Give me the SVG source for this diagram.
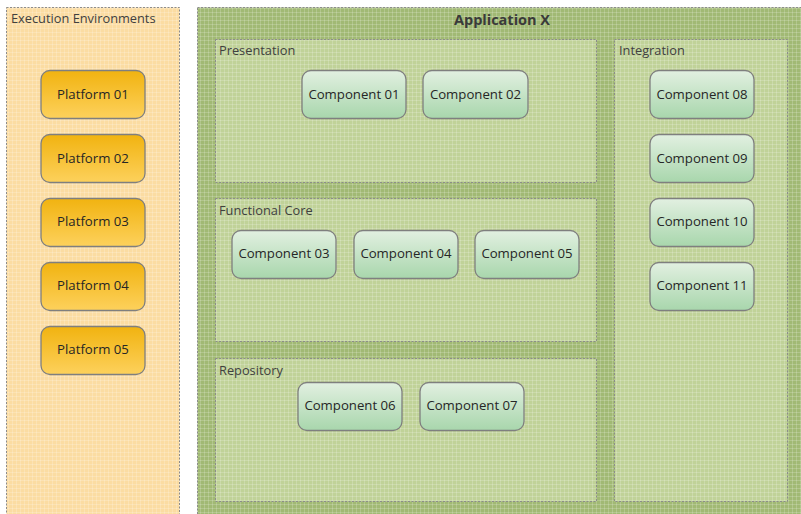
<svg xmlns="http://www.w3.org/2000/svg" width="801" height="514" viewBox="0 0 801 514">
  <defs>
    <pattern id="grid" width="4" height="4" patternUnits="userSpaceOnUse">
      <path d="M0 0.5H4M0.5 0V4" stroke="#ffffff" stroke-opacity="0.18" stroke-width="1" fill="none"/>
    </pattern>
    <linearGradient id="gPlatform" x1="0" y1="0" x2="0" y2="1">
      <stop offset="0" stop-color="#f1b310"/>
      <stop offset="1" stop-color="#fdd15c"/>
    </linearGradient>
    <linearGradient id="gComponent" x1="0" y1="0" x2="0" y2="1">
      <stop offset="0" stop-color="#e2f0e1"/>
      <stop offset="1" stop-color="#a8d6ac"/>
    </linearGradient>
  </defs>
  <style>
    .container { stroke: #8c8c8c; stroke-width: 1; stroke-dasharray: 2 1.5; }
    .env { fill: #fbdca2; }
    .app { fill: #a1b974; }
    .layer { fill: #c0d298; }
    .tex { fill: url(#grid); stroke: none; }
    .platform { fill: url(#gPlatform); stroke: #7f7f7f; stroke-width: 1.3; }
    .component { fill: url(#gComponent); stroke: #7f7f7f; stroke-width: 1.3; }
    .label { font-family: "Open Sans", "Liberation Sans", sans-serif; font-size: 12.8px; fill: #404040; }
    .node-text { font-family: "Open Sans", "Liberation Sans", sans-serif; font-size: 13.2px; fill: #262626; text-anchor: middle; }
    .title { font-family: "Open Sans", "Liberation Sans", sans-serif; font-size: 14.5px; font-weight: bold; fill: #3a3a3a; text-anchor: middle; }
  </style>
  <rect width="801" height="514" fill="#ffffff"/>

  <!-- Execution environments column -->
  <g id="execution-environments">
    <rect class="container env" x="6.5" y="7.5" width="173" height="510"/>
    <rect class="tex" x="7" y="8" width="172" height="506"/>
    <text class="label" x="11" y="23">Execution Environments</text>
  </g>

  <!-- Application container -->
  <g id="application-x">
    <rect class="container app" x="197.5" y="7.5" width="606" height="510"/>
    <rect class="tex" x="198" y="8" width="603" height="506"/>
    <text class="title" x="502" y="25">Application X</text>
  </g>

  <g id="presentation">
    <rect class="container layer" x="215.5" y="39.5" width="381" height="143"/>
    <rect class="tex" x="216" y="40" width="380" height="142"/>
    <text class="label" x="219" y="55">Presentation</text>
  </g>
  <g id="functional-core">
    <rect class="container layer" x="215.5" y="198.5" width="381" height="143"/>
    <rect class="tex" x="216" y="199" width="380" height="142"/>
    <text class="label" x="219" y="215">Functional Core</text>
  </g>
  <g id="repository">
    <rect class="container layer" x="215.5" y="358.5" width="381" height="143"/>
    <rect class="tex" x="216" y="359" width="380" height="142"/>
    <text class="label" x="219" y="375">Repository</text>
  </g>
  <g id="integration">
    <rect class="container layer" x="614.5" y="39.5" width="173" height="462"/>
    <rect class="tex" x="615" y="40" width="172" height="461"/>
    <text class="label" x="619" y="55">Integration</text>
  </g>

  <!-- Platforms -->
  <g id="platform-01"><rect class="platform" x="41" y="70.5" width="104" height="48" rx="9"/><text class="node-text" x="93" y="98.5">Platform 01</text></g>
  <g id="platform-02"><rect class="platform" x="41" y="134.5" width="104" height="48" rx="9"/><text class="node-text" x="93" y="162.5">Platform 02</text></g>
  <g id="platform-03"><rect class="platform" x="41" y="198.5" width="104" height="48" rx="9"/><text class="node-text" x="93" y="225.5">Platform 03</text></g>
  <g id="platform-04"><rect class="platform" x="41" y="262.5" width="104" height="48" rx="9"/><text class="node-text" x="93" y="289.5">Platform 04</text></g>
  <g id="platform-05"><rect class="platform" x="41" y="326.5" width="104" height="48" rx="9"/><text class="node-text" x="93" y="353.5">Platform 05</text></g>

  <!-- Components -->
  <g id="component-01"><rect class="component" x="302" y="70.5" width="104" height="48" rx="9"/><text class="node-text" x="354" y="98.5">Component 01</text></g>
  <g id="component-02"><rect class="component" x="423" y="70.5" width="105" height="48" rx="9"/><text class="node-text" x="475.5" y="98.5">Component 02</text></g>
  <g id="component-03"><rect class="component" x="232" y="230.5" width="104" height="48" rx="9"/><text class="node-text" x="284" y="257.5">Component 03</text></g>
  <g id="component-04"><rect class="component" x="354" y="230.5" width="104" height="48" rx="9"/><text class="node-text" x="406" y="257.5">Component 04</text></g>
  <g id="component-05"><rect class="component" x="475" y="230.5" width="104" height="48" rx="9"/><text class="node-text" x="527" y="257.5">Component 05</text></g>
  <g id="component-06"><rect class="component" x="298" y="382.5" width="104" height="48" rx="9"/><text class="node-text" x="350" y="409.5">Component 06</text></g>
  <g id="component-07"><rect class="component" x="420" y="382.5" width="104" height="48" rx="9"/><text class="node-text" x="472" y="409.5">Component 07</text></g>
  <g id="component-08"><rect class="component" x="650" y="70.5" width="104" height="48" rx="9"/><text class="node-text" x="702" y="98.5">Component 08</text></g>
  <g id="component-09"><rect class="component" x="650" y="134.5" width="104" height="48" rx="9"/><text class="node-text" x="702" y="162.5">Component 09</text></g>
  <g id="component-10"><rect class="component" x="650" y="198.5" width="104" height="48" rx="9"/><text class="node-text" x="702" y="225.5">Component 10</text></g>
  <g id="component-11"><rect class="component" x="650" y="262.5" width="104" height="48" rx="9"/><text class="node-text" x="702" y="289.5">Component 11</text></g>

  <!-- No connectors in this diagram -->
  <g id="connectors"/>
</svg>
